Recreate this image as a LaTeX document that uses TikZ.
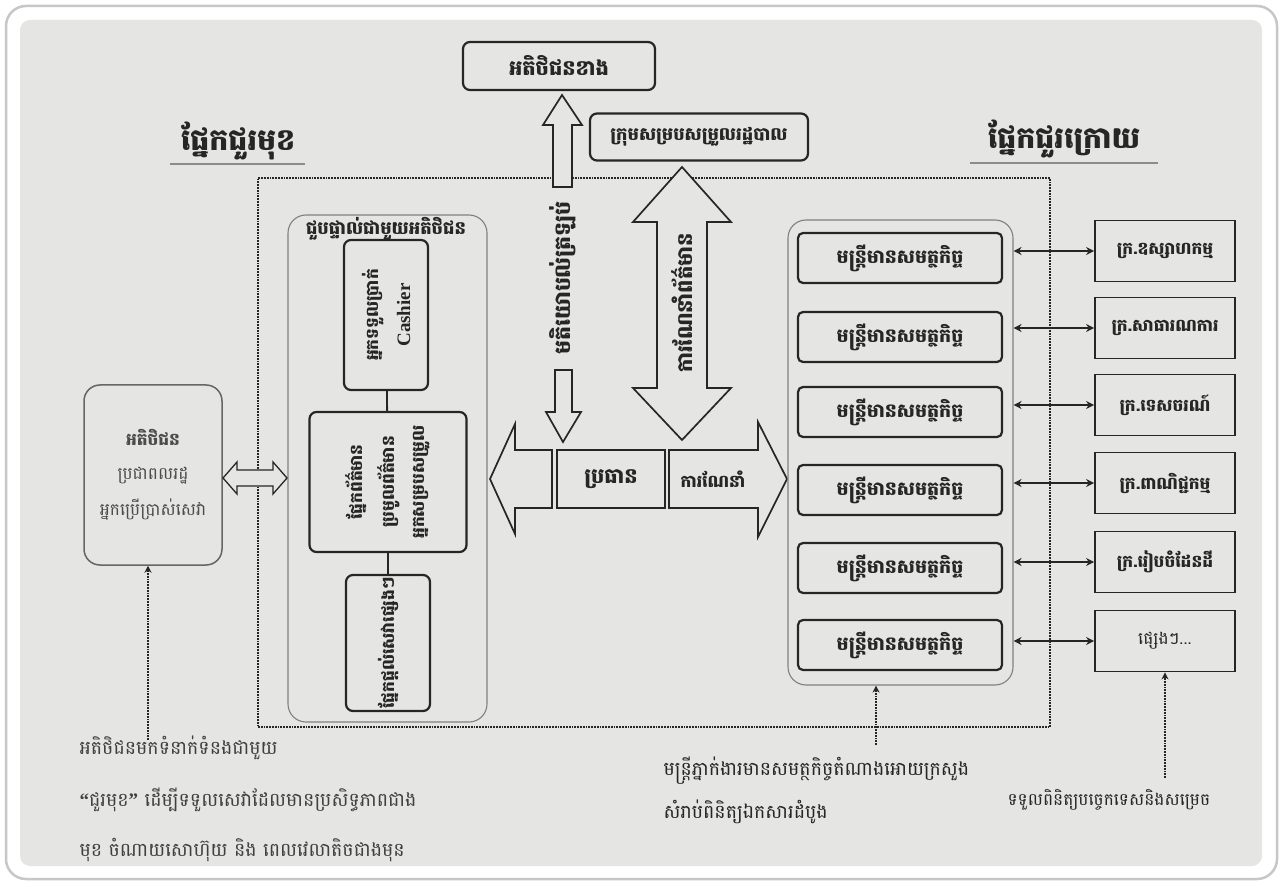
\documentclass[tikz,border=0pt]{standalone}
\usepackage{fontspec}
\setmainfont{Liberation Serif}
\newfontfamily\kh[Script=Khmer]{Battambang}
\usetikzlibrary{arrows.meta}
\definecolor{paper}{RGB}{229,229,227}
\definecolor{ink}{RGB}{38,38,38}
\begin{document}
\begin{tikzpicture}[x=1pt,y=-1pt,
  every node/.style={text=ink},
  kb/.style={font=\kh\fontsize{17}{20}\selectfont\bfseries},
  rbox/.style={draw=ink, line width=2.2pt, rounded corners=7pt, fill=paper, inner sep=1pt, align=center, kb},
  sbox/.style={draw=ink, line width=1.8pt, fill=paper, inner sep=1pt, align=center, kb},
  grp/.style={draw=black!50, line width=1.1pt, rounded corners=18pt},
  blk/.style={draw=ink, line width=1.7pt, fill=paper, line join=miter},
  dots/.style={densely dotted, line width=1.8pt, draw=ink},
  dotarrow/.style={densely dotted, line width=1.8pt, draw=ink, -{Stealth[length=7pt,width=7pt]}},
  biarrow/.style={draw=ink, line width=1.8pt, {Stealth[length=8pt,width=8pt]}-{Stealth[length=8pt,width=8pt]}},
  link/.style={draw=ink, line width=1.8pt},
  heading/.style={font=\kh\fontsize{30}{34}\selectfont\bfseries},
  note/.style={anchor=west, font=\kh\fontsize{19}{22}\selectfont, text=black!75}
]
\useasboundingbox (0,0) rectangle (1283,885);
\fill[white] (0,0) rectangle (1283,885);
\draw[black!22, line width=2.5pt, rounded corners=20pt, fill=white] (6,6) rectangle (1277,879);
\fill[paper, rounded corners=10pt] (20,20) rectangle (1262,866);

% headings
\node[heading] (hL) at (238,141) {ផ្នែកជួរមុខ};
\draw[black!45, line width=1.5pt] (170,164) -- (305,164);
\node[heading] (hR) at (1064,139) {ផ្នែកជួរក្រោយ};
\draw[black!45, line width=1.5pt] (970,163) -- (1158,163);

% dotted frame
\node[dots, minimum width=792pt, minimum height=549pt, inner sep=0pt] (frame) at (654,452.5) {};

% top boxes
\node[rbox, minimum width=192pt, minimum height=48pt, font=\kh\fontsize{21}{24}\selectfont\bfseries] (top) at (559,66) {អតិថិជនខាង};
\node[rbox, minimum width=218pt, minimum height=47pt, font=\kh\fontsize{18}{21}\selectfont\bfseries] (admin) at (699,137) {ក្រុមសម្របសម្រួលរដ្ឋបាល};

% left client box
\node[draw=black!60, line width=1.5pt, rounded corners=16pt, fill=paper, minimum width=138pt, minimum height=180pt, align=center, font=\kh\fontsize{17}{20}\selectfont, text=black!70] (client) at (153,475)
  {{\bfseries អតិថិជន}\\[14pt]ប្រជាពលរដ្ឋ\\[14pt]អ្នកប្រើប្រាស់សេវា};

% left group
\node[grp, minimum width=199pt, minimum height=507pt] (lgrp) at (387.5,468.5) {};
\node[kb, font=\kh\fontsize{18}{21}\selectfont\bfseries] (ltitle) at (386,229) {ជួបផ្ទាល់ជាមួយអតិថិជន};
\node[rbox, rotate=90, minimum width=150pt, minimum height=84pt] (cash) at (386,315) {អ្នកទទួលប្រាក់\\[12pt]{\rmfamily\bfseries\fontsize{19}{21}\selectfont Cashier}};
\node[rbox, rotate=90, minimum width=140pt, minimum height=157pt] (info) at (388,482) {ផ្នែកព័ត៌មាន\\[10pt]ប្រមូលព័ត៌មាន\\[10pt]អ្នកសម្របសម្រួល};
\node[rbox, rotate=90, minimum width=136pt, minimum height=84pt] (serv) at (388,643) {ផ្នែកផ្ដល់សេវាផ្សេងៗ};
\draw[link] (cash) -- (info);
\draw[link] (info) -- (serv);

% client <-> group block arrow
\draw[blk, line width=1.3pt] (223,478) -- (237,462) -- (237,470) -- (273,470) -- (273,462) -- (287,478) -- (273,494) -- (273,486) -- (237,486) -- (237,494) -- cycle;

% dotted note arrow
\coordinate (n1) at (148,740);
\draw[dotarrow] (n1) -- (n1 |- client.south);

% thin vertical feedback arrow
\draw[blk] (553,187) -- (553,125) -- (543,125) -- (562,95) -- (582,125) -- (572,125) -- (572,187) -- cycle;
\draw[blk] (555,370) -- (555,412) -- (546,412) -- (563,442) -- (581,412) -- (572,412) -- (572,370) -- cycle;
\node[kb, rotate=90, font=\kh\fontsize{22}{24}\selectfont\bfseries] (fb) at (563,278) {មតិយោបល់ត្រឡប់};

% big double arrow
\draw[blk] (682,167) -- (731,222) -- (707,222) -- (707,388) -- (731,388) -- (682,440) -- (633,388) -- (657,388) -- (657,222) -- (633,222) -- cycle;
\node[kb, rotate=90, font=\kh\fontsize{21}{24}\selectfont\bfseries] (guide) at (682,303) {ការណែនាំព័ត៌មាន};

% middle row
\draw[blk] (490,479) -- (515,424) -- (515,450) -- (552,450) -- (552,508) -- (515,508) -- (515,534) -- cycle;
\node[sbox, minimum width=108pt, minimum height=58pt, font=\kh\fontsize{21}{24}\selectfont\bfseries] (head) at (611,479) {ប្រធាន};
\draw[blk] (669,450) -- (758,450) -- (758,422) -- (787,479) -- (758,537) -- (758,508) -- (669,508) -- cycle;
\node[kb] (adv) at (713,479) {ការណែនាំ};

% right group
\node[grp, minimum width=225pt, minimum height=465pt] (rgrp) at (900.5,452.5) {};
\foreach \i/\y in {1/258,2/337,3/412,4/490,5/568,6/645}{
  \node[rbox, rounded corners=5pt, minimum width=204pt, minimum height=50pt, font=\kh\fontsize{19}{22}\selectfont\bfseries] (o\i) at (900,\y) {មន្ត្រីមានសមត្ថកិច្ច};
}

% far right boxes
\foreach \i/\y/\t in {1/251/ក្រ.ឧស្សាហកម្ម,2/328/ក្រ.សាធារណការ,3/405/ក្រ.ទេសចរណ៍,4/483/ក្រ.ពាណិជ្ជកម្ម,5/562/ក្រ.រៀបចំដែនដី}{
  \node[sbox, minimum width=140pt, minimum height=61pt] (m\i) at (1165,\y) {\t};
}
\node[sbox, minimum width=140pt, minimum height=61pt, font=\kh\fontsize{17}{20}\selectfont] (m6) at (1165,641) {ផ្សេងៗ...};
\foreach \i in {1,...,6}{
  \draw[biarrow] (rgrp.east |- m\i.west) -- (m\i.west);
}

\coordinate (n2) at (876,745);
\draw[dotarrow] (n2) -- (n2 |- rgrp.south);
\coordinate (n3) at (1165,778);
\draw[dotarrow] (n3) -- (m6.south);

% bottom notes
\node[note] (t1) at (76,748) {អតិថិជនមកទំនាក់ទំនងជាមួយ};
\node[note] (t2) at (76,800) {{\rmfamily\bfseries ``}ជួរមុខ{\rmfamily\bfseries ''} ដើម្បីទទួលសេវាដែលមានប្រសិទ្ធភាពជាង};
\node[note] (t3) at (76,850) {មុខ ចំណាយសោហ៊ុយ និង ពេលវេលាតិចជាងមុន};
\node[note, text=ink] (t4) at (660,771) {មន្ត្រីភ្នាក់ងារមានសមត្ថកិច្ចតំណាងអោយក្រសួង};
\node[note, text=ink] (t5) at (660,812) {សំរាប់ពិនិត្យឯកសារដំបូង};
\node[note, text=ink, font=\kh\fontsize{17}{20}\selectfont] (t6) at (1004,800) {ទទួលពិនិត្យបច្ចេកទេសនិងសម្រេច};
\end{tikzpicture}
\end{document}
